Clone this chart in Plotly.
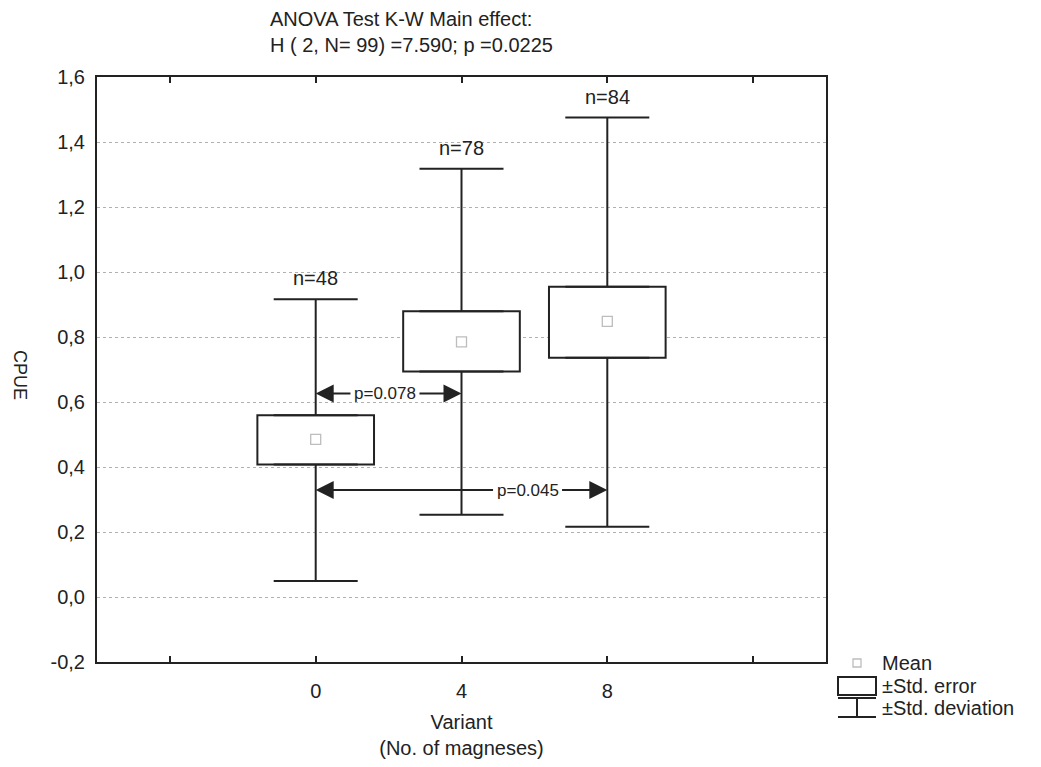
import plotly.graph_objects as go

# ---- data ----
variants = ["0", "4", "8"]
positions = [1, 2, 3]
n_counts = [48, 78, 84]
means = [0.485, 0.785, 0.848]
se_low = [0.408, 0.694, 0.736]
se_high = [0.559, 0.879, 0.955]
sd_low = [0.049, 0.253, 0.216]
sd_high = [0.916, 1.318, 1.475]
comparisons = [(0, 1, 0.078, 0.626, 1.475), (0, 2, 0.045, 0.329, 2.453)]  # (i, j, p, y level, label x)
y_ticks = [-0.2, 0.0, 0.2, 0.4, 0.6, 0.8, 1.0, 1.2, 1.4, 1.6]
y_ticktext = [f"{v:.1f}".replace(".", ",") for v in y_ticks]

FONT = "Liberation Sans, Arial, sans-serif"
INK = "#222"

# plot-area geometry (pixels) for paper-coordinate helpers
L, R, T, B, W, H = 97, 826, 77, 662, 1041, 767
def px(x):
    return (x - L) / (R - L)
def py(y):
    return (B - y) / (B - T)

fig = go.Figure()

# Std. error boxes
fig.add_trace(go.Bar(
    x=positions, base=se_low, y=[h - l for h, l in zip(se_high, se_low)],
    width=0.8, marker=dict(color="white", line=dict(color=INK, width=2)),
    name="±Std. error", showlegend=False,
))
# Upper whiskers
fig.add_trace(go.Scatter(
    x=positions, y=se_high, mode="markers",
    marker=dict(size=0.1, color="rgba(0,0,0,0)"),
    error_y=dict(type="data", symmetric=False,
                 array=[h - s for h, s in zip(sd_high, se_high)],
                 arrayminus=[0, 0, 0], width=42, thickness=2, color=INK),
    showlegend=False, hoverinfo="skip",
))
# Lower whiskers
fig.add_trace(go.Scatter(
    x=positions, y=se_low, mode="markers",
    marker=dict(size=0.1, color="rgba(0,0,0,0)"),
    error_y=dict(type="data", symmetric=False,
                 array=[0, 0, 0],
                 arrayminus=[s - l for s, l in zip(se_low, sd_low)],
                 width=42, thickness=2, color=INK),
    showlegend=False, hoverinfo="skip",
))
# Means
fig.add_trace(go.Scatter(
    x=positions, y=means, mode="markers",
    marker=dict(symbol="square-open", size=10, color="#bdbdbd", line=dict(width=1.3)),
    name="Mean", showlegend=False,
))

annotations = []
# n labels
for p, top, n in zip(positions, sd_high, n_counts):
    annotations.append(dict(x=p, y=top, xref="x", yref="y", text=f"n={n}",
                            showarrow=False, yanchor="bottom", yshift=8,
                            font=dict(family=FONT, size=20, color=INK)))
# comparison arrows
for i, j, pv, ylev, lx in comparisons:
    label = f"p={pv:.3f}"
    for tx, col in [(positions[i], INK), (positions[j], "rgba(0,0,0,0)")]:
        annotations.append(dict(
            x=tx, y=ylev, xref="x", yref="y", ax=lx, ay=ylev, axref="x", ayref="y",
            text=label, showarrow=True, arrowhead=2, arrowsize=1.8, arrowwidth=2,
            arrowcolor=INK, borderpad=3, font=dict(family=FONT, size=17, color=col)))

# title
annotations.append(dict(x=px(268), y=py(6), xref="paper", yref="paper",
                        xanchor="left", yanchor="top", align="left", showarrow=False,
                        text="ANOVA Test K-W Main effect:<br>H ( 2, N= 99) =7.590; p =0.0225",
                        font=dict(family=FONT, size=20, color=INK)))
# y title (reads top-to-bottom)
annotations.append(dict(x=px(20), y=py(375), xref="paper", yref="paper",
                        xanchor="center", yanchor="middle",
                        text="CPUE", textangle=90, showarrow=False,
                        font=dict(family=FONT, size=18, color=INK)))

# legend (drawn manually to reproduce the box / whisker symbols)
legend_items = ["Mean", "±Std. error", "±Std. deviation"]
legend_y = [663, 686, 708]
for txt, ly in zip(legend_items, legend_y):
    annotations.append(dict(x=px(880), y=py(ly), xref="paper", yref="paper",
                            xanchor="left", yanchor="middle", showarrow=False, text=txt,
                            font=dict(family=FONT, size=20, color=INK)))
shapes = [
    dict(type="rect", xref="paper", yref="paper", x0=px(853), x1=px(861), y0=py(667), y1=py(659),
         line=dict(color="#bdbdbd", width=1.3), fillcolor="white"),
    dict(type="rect", xref="paper", yref="paper", x0=px(838), x1=px(876), y0=py(695), y1=py(677),
         line=dict(color=INK, width=2), fillcolor="white"),
    dict(type="line", xref="paper", yref="paper", x0=px(838), x1=px(876), y0=py(698), y1=py(698),
         line=dict(color=INK, width=2)),
    dict(type="line", xref="paper", yref="paper", x0=px(857), x1=px(857), y0=py(698), y1=py(717),
         line=dict(color=INK, width=2)),
    dict(type="line", xref="paper", yref="paper", x0=px(838), x1=px(876), y0=py(717), y1=py(717),
         line=dict(color=INK, width=2)),
]

fig.update_layout(
    width=W, height=H,
    margin=dict(l=L, r=W - R, t=T, b=H - B),
    paper_bgcolor="white", plot_bgcolor="white",
    font=dict(family=FONT, size=20, color=INK),
    barmode="overlay", showlegend=False,
    annotations=annotations, shapes=shapes,
)
fig.update_xaxes(
    range=[-0.5, 4.5], tickvals=[0, 1, 2, 3, 4], ticktext=[""] + variants + [""],
    ticks="inside", ticklen=6, tickwidth=1.5, tickcolor=INK,
    tickfont=dict(family=FONT, size=20, color=INK),
    showline=True, linecolor=INK, linewidth=2, mirror="ticks",
    showgrid=False, zeroline=False, ticklabelstandoff=10,
    title=dict(text="Variant<br>(No. of magneses)", font=dict(family=FONT, size=20, color=INK), standoff=14),
)
fig.update_yaxes(
    range=[-0.2, 1.6], tickvals=y_ticks, ticktext=y_ticktext,
    tickfont=dict(family=FONT, size=20, color=INK),
    ticks="", showline=True, linecolor=INK, linewidth=2, mirror=True,
    showgrid=True, gridcolor="#b0b0b0", griddash="dot", gridwidth=1, zeroline=False,
    ticklabelstandoff=6,
)

fig.write_html("out.html", config={"displayModeBar": False},
               post_script="document.body.style.margin='0px';")
